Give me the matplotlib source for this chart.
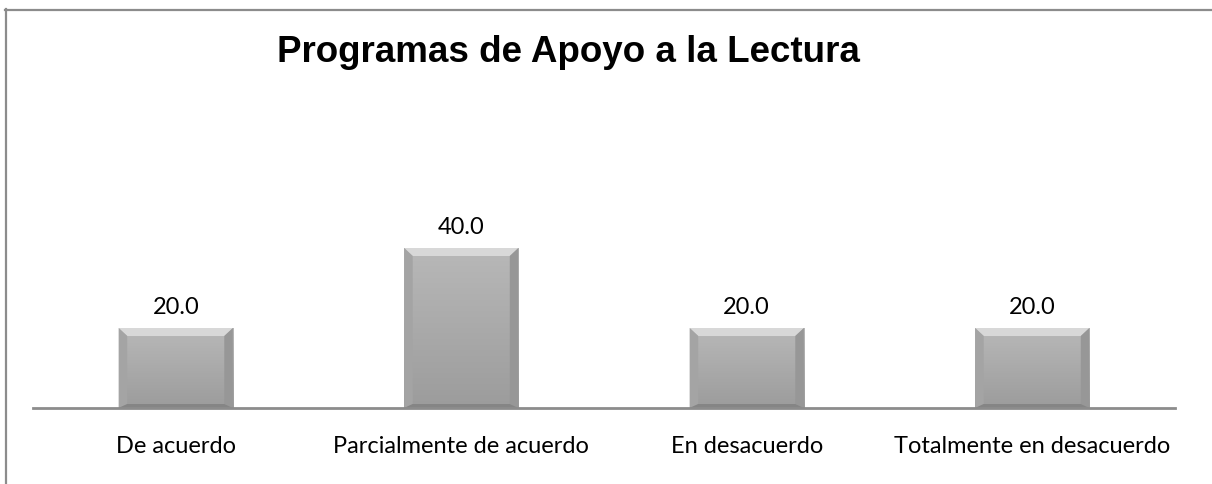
import numpy as np
import matplotlib
matplotlib.use("Agg")
import matplotlib.pyplot as plt
from matplotlib.lines import Line2D
from matplotlib.patches import Polygon
from matplotlib.colors import LinearSegmentedColormap

# ---------------------------------------------------------------------------
# Data
# ---------------------------------------------------------------------------
categories = ["De acuerdo", "Parcialmente de acuerdo", "En desacuerdo",
              "Totalmente en desacuerdo"]
values = [20.0, 40.0, 20.0, 20.0]
title = "Programas de Apoyo a la Lectura"

LABEL_FONT = ["Lato", "DejaVu Sans"]
TITLE_FONT = ["Liberation Sans", "DejaVu Sans"]

# ---------------------------------------------------------------------------
# Figure
# ---------------------------------------------------------------------------
W, H = 1212, 484
fig = plt.figure(figsize=(W / 100, H / 100), dpi=100)
ax = fig.add_axes([33 / W, (H - 408) / H, (1175 - 33) / W, 200 / H])

x = np.arange(len(categories))
BAR_W = 0.40
bars = ax.bar(x, values, width=BAR_W, color="none", edgecolor="none", zorder=2)

ax.set_xlim(-0.5, len(categories) - 0.5)
ax.set_ylim(0, 50)

# bevelled grey bars: gradient body + light top edge + darker sides
grad = LinearSegmentedColormap.from_list("g", ["#9c9c9c", "#b8b8b8"])
bev_x = 0.030   # ~8 px
bev_y = 2.0     # ~8 px
for rect in bars:
    x0, w, h = rect.get_x(), rect.get_width(), rect.get_height()
    x1 = x0 + w
    ax.imshow(np.linspace(0, 1, 64).reshape(-1, 1), cmap=grad, origin="lower",
              extent=[x0, x1, 0, h], aspect="auto", zorder=2)
    # top bevel (light)
    ax.add_patch(Polygon([[x0, h], [x1, h], [x1 - bev_x, h - bev_y],
                          [x0 + bev_x, h - bev_y]],
                         closed=True, facecolor="#d8d8d8", edgecolor="none",
                         zorder=3))
    # left bevel
    ax.add_patch(Polygon([[x0, h], [x0 + bev_x, h - bev_y],
                          [x0 + bev_x, bev_y * 0.5], [x0, 0]],
                         closed=True, facecolor="#a4a4a4", edgecolor="none",
                         zorder=3))
    # right bevel
    ax.add_patch(Polygon([[x1, h], [x1 - bev_x, h - bev_y],
                          [x1 - bev_x, bev_y * 0.5], [x1, 0]],
                         closed=True, facecolor="#979797", edgecolor="none",
                         zorder=3))
    # bottom bevel
    ax.add_patch(Polygon([[x0, 0], [x1, 0], [x1 - bev_x, bev_y * 0.5],
                          [x0 + bev_x, bev_y * 0.5]],
                         closed=True, facecolor="#858585", edgecolor="none",
                         zorder=3))
    ax.annotate(f"{h:.1f}", (rect.get_x() + w / 2, h), xytext=(0, 7),
                textcoords="offset points", ha="center", va="bottom",
                fontsize=17, family=LABEL_FONT, color="#000000")

# axes styling
for side in ["top", "right", "left"]:
    ax.spines[side].set_visible(False)
ax.spines["bottom"].set_color("#8c8c8c")
ax.spines["bottom"].set_linewidth(2)
ax.spines["bottom"].set_zorder(4)
ax.set_yticks([])
ax.set_xticks(x)
ax.set_xticklabels(categories, fontsize=17, family=LABEL_FONT)
ax.tick_params(axis="x", length=0, pad=20)
ax.patch.set_visible(False)

fig.text(568 / W, (H - 53) / H, title, ha="center", va="center",
         fontsize=26.5, fontweight="bold", family=TITLE_FONT)

# chart frame (left and top edges visible)
fig.add_artist(Line2D([5.5 / W, 5.5 / W], [0, (H - 9) / H],
                      transform=fig.transFigure, color="#8c8c8c", lw=1.6))
fig.add_artist(Line2D([5 / W, 1], [(H - 9.5) / H, (H - 9.5) / H],
                      transform=fig.transFigure, color="#8c8c8c", lw=1.6))

fig.savefig("out.png", dpi=100)
